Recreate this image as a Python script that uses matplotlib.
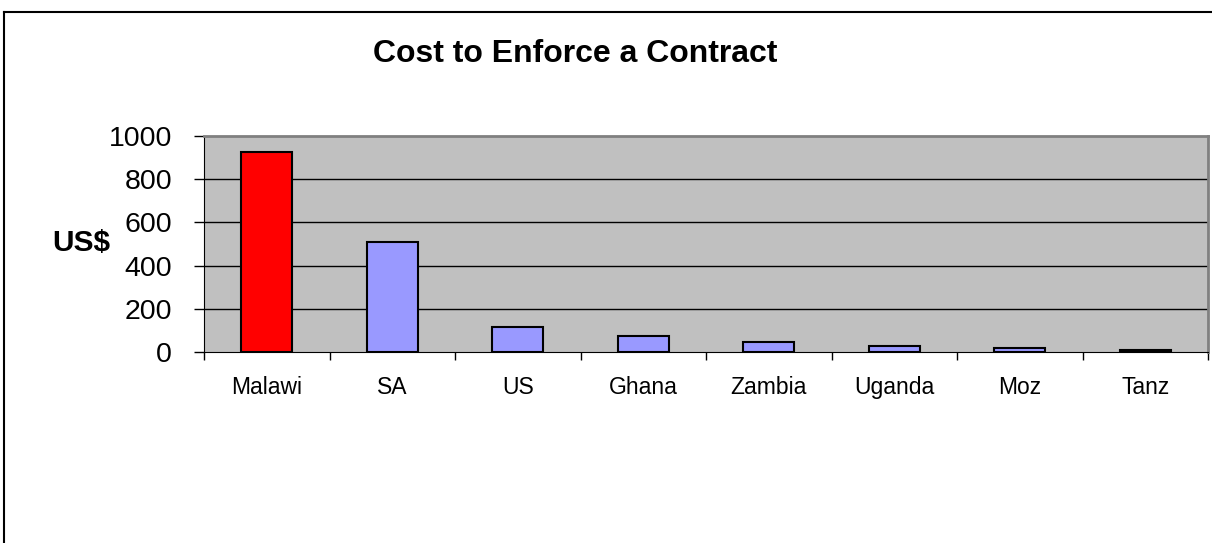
import matplotlib.pyplot as plt
from matplotlib.lines import Line2D
from matplotlib.ticker import FixedLocator

# Cost to enforce a contract, in US$
countries = ["Malawi", "SA", "US", "Ghana", "Zambia", "Uganda", "Moz", "Tanz"]
cost_usd = [925, 510, 115, 75, 48, 30, 20, 8]
bar_colors = ["#FF0000"] + ["#9999FF"] * 7
y_ticks = [0, 200, 400, 600, 800, 1000]

plt.rcParams['font.family'] = ['Liberation Sans', 'DejaVu Sans']

fig = plt.figure(figsize=(12.12, 5.43), dpi=100)
W, H = 1212, 543

# chart frame (only the top and left edges show)
fig.add_artist(Line2D([4 / W, 4 / W], [0, 1 - 12 / H], transform=fig.transFigure,
                      color="black", lw=1.5))
fig.add_artist(Line2D([4 / W, 1], [1 - 12 / H, 1 - 12 / H], transform=fig.transFigure,
                      color="black", lw=1.5))

ax = fig.add_axes([204 / W, 1 - 352 / H, (1208 - 204) / W, (352 - 136) / H])
ax.set_facecolor("#C0C0C0")

x = list(range(len(countries)))
ax.bar(x, cost_usd, width=0.41, color=bar_colors, edgecolor="black", linewidth=1.5, zorder=3)

ax.set_xlim(-0.5, len(countries) - 0.5)
ax.set_ylim(0, 1000)
ax.set_yticks(y_ticks)
ax.tick_params(axis="y", direction="out", length=7, width=1, pad=16, labelsize=20.5)
ax.set_xticks(x)
ax.set_xticklabels(countries)
ax.xaxis.set_minor_locator(FixedLocator([i - 0.5 for i in range(len(countries) + 1)]))
ax.tick_params(axis="x", which="major", length=0, pad=17, labelsize=16.5)
ax.tick_params(axis="x", which="minor", direction="out", length=6, width=1)

for v in y_ticks[1:-1]:
    ax.axhline(v, color="black", lw=1, zorder=2)

for side in ["top", "right"]:
    ax.spines[side].set_color("#808080")
    ax.spines[side].set_linewidth(2)
ax.spines["left"].set_color("black")
ax.spines["bottom"].set_color("black")

fig.text(575 / W, 1 - 54 / H, "Cost to Enforce a Contract", ha="center", va="center",
         fontsize=23, fontweight="bold")
fig.text(81 / W, 1 - 243 / H, "US$", ha="center", va="center", fontsize=21.5, fontweight="bold")

fig.savefig("out.png", dpi=100)
